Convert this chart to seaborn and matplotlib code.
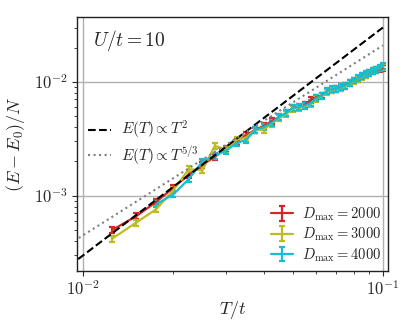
import numpy as np
import pandas as pd
import matplotlib
matplotlib.use("Agg")
import matplotlib.pyplot as plt
import matplotlib.ticker as mticker
import seaborn as sns
from matplotlib.lines import Line2D

T_all = [0.0125, 0.015, 0.0175, 0.02, 0.0225, 0.025, 0.0275, 0.03, 0.0325, 0.035,
         0.0375, 0.04, 0.0425, 0.045, 0.0475, 0.05, 0.0525, 0.055, 0.0575, 0.06,
         0.0625, 0.065, 0.0675, 0.07, 0.0725, 0.075, 0.0775, 0.08, 0.0825, 0.085,
         0.0875, 0.09, 0.0925, 0.095, 0.0975, 0.1]

E_2000 = [5.0e-4, 6.6e-4, 8.8e-4, 1.18e-3, 1.53e-3, 1.87e-3, 2.2e-3, 2.6e-3, 3.0e-3, 3.4e-3,
          3.8e-3, 4.1e-3, 4.5e-3, 4.9e-3, 5.3e-3, 5.9e-3, 6.0e-3, 6.3e-3, 6.9e-3, 7.3e-3,
          7.6e-3, 8.3e-3, 8.55e-3, 8.7e-3, 9.0e-3, 9.3e-3, 9.8e-3, 1.03e-2, 1.07e-2, 1.12e-2,
          1.16e-2, 1.2e-2, 1.24e-2, 1.27e-2, 1.3e-2, 1.33e-2]
E_3000 = [4.2e-4, 5.8e-4, 7.6e-4, 1.12e-3, 1.71e-3, 1.68e-3, 2.74e-3, 2.55e-3, 3.1e-3, 3.25e-3,
          3.8e-3, 3.8e-3, 4.3e-3, 4.8e-3, 5.2e-3, 5.8e-3, 5.95e-3, 6.1e-3, 6.4e-3, 7.1e-3,
          7.5e-3, 8.2e-3, 8.5e-3, 8.7e-3, 8.9e-3, 9.2e-3, 9.7e-3, 1.02e-2, 1.07e-2, 1.11e-2,
          1.16e-2, 1.2e-2, 1.24e-2, 1.28e-2, 1.32e-2, 1.36e-2]
T_4000 = T_all[2:]
E_4000 = [8.4e-4, 1.03e-3, 1.40e-3, 2.0e-3, 2.25e-3, 2.49e-3, 2.9e-3, 3.1e-3,
          3.79e-3, 4.0e-3, 4.35e-3, 4.9e-3, 5.3e-3, 5.9e-3, 6.0e-3, 6.2e-3, 6.5e-3, 7.2e-3,
          7.55e-3, 8.3e-3, 8.6e-3, 8.7e-3, 9.0e-3, 9.3e-3, 9.8e-3, 1.03e-2, 1.08e-2, 1.12e-2,
          1.17e-2, 1.2e-2, 1.24e-2, 1.28e-2, 1.33e-2, 1.38e-2]

labels = [r"$D_{\max} = 2000$", r"$D_{\max} = 3000$", r"$D_{\max} = 4000$"]
colors = ["#d62728", "#bcbd22", "#17becf"]
fit_labels = [r"$E(T) \propto T^2$", r"$E(T) \propto T^{5/3}$"]
fit_coef = [3.0, 0.97]
fit_pow = [2.0, 5.0 / 3.0]
T_fit = [0.009, 0.1]

sns.set_theme(style="ticks")
plt.rcParams["mathtext.fontset"] = "cm"
plt.rcParams["font.family"] = ["DejaVu Serif"]

fig = plt.figure(figsize=(4.15, 3.32), dpi=100)
ax = fig.add_axes([0.186, 0.184, 0.749, 0.765])

series = [(T_all, E_2000), (T_all, E_3000), (T_4000, E_4000)]
handles = []
for (T, E), lab, c in zip(series, labels, colors):
    E = np.array(E)
    h = ax.errorbar(T, E, yerr=0.06 * E, color=c, lw=1.6, elinewidth=1.6,
                    capsize=2.5, capthick=1.6, label=lab, zorder=3)
    handles.append(h)

fit_rows = []
for lab, a, p in zip(fit_labels, fit_coef, fit_pow):
    for t in np.geomspace(T_fit[0], T_fit[1], 50):
        fit_rows.append({"T": t, "E": a * t ** p, "fit": lab})
fit_df = pd.DataFrame(fit_rows)
sns.lineplot(data=fit_df[fit_df["fit"] == fit_labels[0]], x="T", y="E", ax=ax,
             color="black", lw=1.5, linestyle="--", legend=False, zorder=4)
sns.lineplot(data=fit_df[fit_df["fit"] == fit_labels[1]], x="T", y="E", ax=ax,
             color="gray", lw=1.5, linestyle=":", legend=False, zorder=4)

ax.set_xscale("log")
ax.set_yscale("log")
ax.set_xlim(10 ** -2.02, 10 ** -0.983)
ax.set_ylim(10 ** -3.66, 10 ** -1.43)

fmt = mticker.FuncFormatter(lambda v, pos: r"$10^{%d}$" % int(round(np.log10(v))))
ax.xaxis.set_major_formatter(fmt)
ax.yaxis.set_major_formatter(fmt)
ax.xaxis.set_minor_formatter(mticker.NullFormatter())
ax.yaxis.set_minor_formatter(mticker.NullFormatter())

ax.grid(True, which="major", color="#b0b0b0", lw=1)
ax.tick_params(which="major", direction="out", labelsize=12, length=3.5, width=0.8, pad=3)
ax.tick_params(which="minor", direction="out", length=2, width=0.6)
ax.set_xlabel(r"$T/t$", fontsize=13, labelpad=0)
ax.set_ylabel(r"$(E-E_0)/N$", fontsize=13, labelpad=5)
for s in ax.spines.values():
    s.set_color("#222222")
    s.set_linewidth(1.0)

ax.text(0.05, 0.955, r"$U/t = 10$", transform=ax.transAxes, fontsize=14, va="top", ha="left")

fit_handles = [Line2D([], [], color="black", lw=1.5, linestyle="--"),
               Line2D([], [], color="gray", lw=1.5, linestyle=":")]
leg1 = ax.legend(fit_handles, fit_labels, loc="center left", bbox_to_anchor=(0.0, 0.504),
                 frameon=False, fontsize=11, handlelength=1.5, handletextpad=0.7,
                 labelspacing=0.2, borderpad=0.2)
ax.add_artist(leg1)
ax.legend(handles, labels, loc="lower right", frameon=False, fontsize=10.5, handlelength=1.5,
          borderaxespad=0.25, labelspacing=0.2, borderpad=0.25, handletextpad=0.6)

fig.savefig("out.png", dpi=100)
